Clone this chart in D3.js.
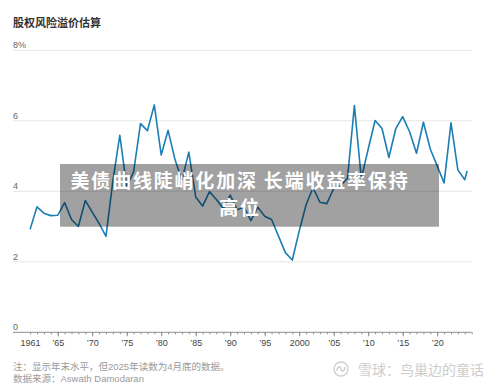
<!DOCTYPE html>
<html>
<head>
<meta charset="utf-8">
<script src="https://cdn.jsdelivr.net/npm/d3@7"></script>
<style>
  body { margin: 0; background: #fff; }
  svg { display: block; font-family: "Liberation Sans", "Noto Sans CJK SC", sans-serif; }
</style>
</head>
<body>
<svg id="chart" width="500" height="391"></svg>
<script>
  // implied equity risk premium, year end (2025 = end of April)
  var years = d3.range(1961, 2026);
  var erp = [2.92, 3.56, 3.38, 3.31, 3.32, 3.68, 3.20, 3.00, 3.74, 3.41,
             3.09, 2.72, 4.30, 5.59, 4.13, 4.55, 5.92, 5.72, 6.45, 5.03,
             5.73, 4.90, 4.31, 5.11, 3.84, 3.58, 3.99, 3.77, 3.51, 3.89,
             3.48, 3.55, 3.17, 3.55, 3.29, 3.20, 2.73, 2.26, 2.05, 2.87,
             3.62, 4.10, 3.69, 3.65, 4.08, 4.16, 4.37, 6.43, 4.36, 5.20,
             6.01, 5.78, 4.96, 5.78, 6.12, 5.69, 5.08, 5.96, 5.20, 4.72,
             4.24, 5.94, 4.60, 4.33, 4.58];

  var yTicks = [0, 2, 4, 6, 8];
  var yTickLabels = ["0", "2", "4", "6", "8%"];
  var xTickYears = [1961, 1965, 1970, 1975, 1980, 1985, 1990, 1995, 2000, 2005, 2010, 2015, 2020];
  var xTickLabels = ["1961", "\u201965", "\u201970", "\u201975", "\u201980", "\u201985", "\u201990",
                     "\u201995", "2000", "\u201905", "\u201910", "\u201915", "\u201920"];

  var title = "股权风险溢价估算";
  var note = "注：显示年末水平，但2025年读数为4月底的数据。";
  var source = "数据来源：Aswath Damodaran";
  var banner = ["美债曲线陡峭化加深 长端收益率保持", "高位"];
  var mark = "雪球：鸟巢边的童话";

  var svg = d3.select("#chart");
  var left = 13, right = 471.7;

  var x = d3.scaleLinear().domain([1961, 2025]).range([30.1, 471.7]);
  var y = d3.scaleLinear().domain([0, 8]).range([332.3, 50.3]);

  // the 2025 reading is end of April
  function xPos(yr) { return yr === 2025 ? x(2024 + 4 / 12) : x(yr); }

  svg.append("text")
      .attr("x", left).attr("y", 27)
      .attr("font-size", 11).attr("font-weight", "bold").attr("fill", "#333")
      .text(title);

  // gridlines
  svg.selectAll(".grid")
      .data(yTicks.slice(1))
    .enter().append("line")
      .attr("x1", left).attr("x2", right)
      .attr("y1", function(d) { return y(d); })
      .attr("y2", function(d) { return y(d); })
      .attr("stroke", "#e6e6e6").attr("stroke-width", 1);

  svg.selectAll(".ylab")
      .data(yTicks)
    .enter().append("text")
      .attr("x", left)
      .attr("y", function(d) { return y(d) - 2.2; })
      .attr("font-size", 9).attr("fill", "#666")
      .text(function(d, i) { return yTickLabels[i]; });

  // x axis
  svg.append("line")
      .attr("x1", left).attr("x2", right)
      .attr("y1", y(0)).attr("y2", y(0))
      .attr("stroke", "#8c8c8c").attr("stroke-width", 1);

  var minor = svg.append("g")
      .attr("transform", "translate(0," + y(0) + ")")
      .call(d3.axisBottom(x).tickValues(d3.range(1961, 2026)).tickSize(2).tickFormat(""));
  var major = svg.append("g")
      .attr("transform", "translate(0," + y(0) + ")")
      .call(d3.axisBottom(x).tickValues(xTickYears.slice(1)).tickSize(4).tickFormat(""));
  var labels = svg.append("g")
      .attr("transform", "translate(0," + y(0) + ")")
      .call(d3.axisBottom(x).tickValues(xTickYears).tickSize(0)
        .tickFormat(function(d, i) { return xTickLabels[i]; }));

  [minor, major, labels].forEach(function(g) {
    g.select(".domain").remove();
    g.selectAll(".tick line").attr("stroke", "#8c8c8c");
  });
  labels.selectAll("text")
      .attr("y", 7.8)
      .attr("font-size", 9)
      .attr("font-family", "Liberation Sans, sans-serif")
      .attr("fill", "#444");

  // series
  var line = d3.line()
      .x(function(d, i) { return xPos(years[i]); })
      .y(function(d) { return y(d); });

  svg.append("path")
      .datum(erp)
      .attr("d", line)
      .attr("fill", "none")
      .attr("stroke", "#1b7eb5")
      .attr("stroke-width", 1.6)
      .attr("stroke-linejoin", "round");

  // footnotes
  svg.append("text")
      .attr("x", left).attr("y", 369.5)
      .attr("font-size", 9.5).attr("fill", "#9a9a9a")
      .text(note);
  svg.append("text")
      .attr("x", left).attr("y", 382)
      .attr("font-size", 9.5).attr("fill", "#9a9a9a")
      .text(source);

  // watermark
  var wm = svg.append("g").attr("transform", "translate(341,369)");
  wm.append("circle").attr("r", 7).attr("fill", "none")
      .attr("stroke", "#cfcfcf").attr("stroke-width", 1.3);
  wm.append("path")
      .attr("d", "M-4,2 C-4,-3 0,-3 0,0 C0,3 4,3 4,-2")
      .attr("fill", "none").attr("stroke", "#cfcfcf").attr("stroke-width", 1.3);
  svg.append("text")
      .attr("x", 358).attr("y", 374.5)
      .attr("font-size", 14).attr("fill", "#cdcdcd")
      .attr("font-family", "Noto Sans CJK SC, sans-serif")
      .text(mark);

  // banner overlay
  svg.append("rect")
      .attr("x", 60).attr("y", 164)
      .attr("width", 379).attr("height", 62.7)
      .attr("fill", "rgba(0,0,0,0.37)");

  var bannerText = svg.append("text")
      .attr("text-anchor", "middle")
      .attr("font-family", "Noto Sans CJK SC, sans-serif")
      .attr("font-size", 19).attr("font-weight", "bold")
      .attr("letter-spacing", 1.8)
      .attr("fill", "#fff");
  bannerText.selectAll("tspan")
      .data(banner)
    .enter().append("tspan")
      .attr("x", 240)
      .attr("y", function(d, i) { return 187.5 + i * 27.8; })
      .text(function(d) { return d; });
</script>
</body>
</html>
